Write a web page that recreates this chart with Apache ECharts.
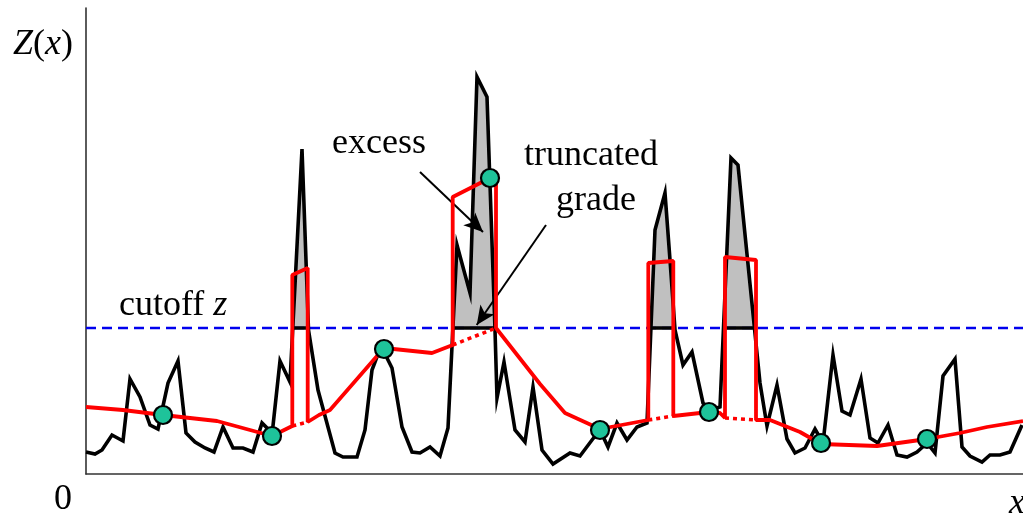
<!DOCTYPE html>
<html>
<head>
<meta charset="utf-8">
<script src="https://cdn.jsdelivr.net/npm/echarts@6/dist/echarts.min.js"></script>
<style>
  html, body { margin: 0; padding: 0; background: #fff; }
  #chart { width: 1023px; height: 516px; }
</style>
</head>
<body>
<div id="chart"></div>
<script>
// Grade profile Z(x) along a transect
const gradeX = [0,0.9,1.6,2.6,3.7,4.4,5.4,6.4,7.2,8.2,
  9.2,10.0,10.9,11.9,12.8,13.7,14.7,15.7,16.7,17.6,
  18.1,18.6,19.4,20.4,21.6,22.25,23.2,24.9,25.7,27.1,
  27.9,28.6,29.5,30.6,31.6,32.6,33.4,34.4,35.4,36.2,
  37.1,38.4,39.1,40.1,40.9,41.1,41.8,42.9,43.9,44.7,
  45.6,46.7,48.4,49.4,50.6,51.4,52.2,53.1,54.1,55.1,
  56.1,56.9,57.9,58.4,58.9,59.7,60.6,61.7,62.4,63.4,
  64.5,65.2,67.4,68.1,69.1,70.1,70.9,71.9,72.9,73.7,
  74.7,75.6,76.4,77.5,78.4,79.2,80.2,81.1,82.1,83.1,
  84.1,84.9,85.7,86.9,87.6,88.4,89.6,90.4,91.4,92.4,
  93.6];
const gradeZ = [2.2,2.0,2.4,3.9,3.3,9.5,7.7,4.9,4.5,9.1,
  11.3,4.1,3.2,2.6,2.2,4.7,2.6,2.6,2.2,5.1,
  4.6,3.9,11.3,9.2,32.5,14.4,8.4,2.1,1.7,1.7,
  4.4,10.4,12.8,10.6,4.7,2.2,2.1,2.7,1.8,4.6,
  22.9,18.1,39.7,37.7,14.4,7.6,11.2,4.4,3.2,8.7,
  2.4,1.0,2.1,1.8,3.4,4.4,2.7,5.1,3.4,4.7,
  5.1,24.4,28.1,21.4,14.4,10.9,12.2,7.1,6.4,6.7,
  31.6,30.9,9.1,4.8,8.9,3.5,2.1,2.6,4.5,3.1,
  11.9,6.3,5.9,9.5,3.6,3.1,4.9,1.9,1.7,2.2,
  3.1,2.1,9.8,11.5,2.7,1.8,1.2,1.9,1.9,2.2,
  4.9];

// Smooth estimate from the samples
const estX = [0,3.7,7.7,13.1,18.6,20.63,22.17,23.3,24.4,29.8,34.6,36.67,41.0,45.4,47.9,
  51.4,56.23,58.73,62.3,63.4,63.9,67.0,68.4,71.4,73.5,79.1,84.1,87.4,90.1,93.7];
const estZ = [6.7,6.4,5.9,5.3,3.8,4.8,5.2,5.9,6.4,12.6,12.1,12.9,14.6,9.0,6.1,
  4.5,5.4,5.8,6.2,6.1,5.6,5.4,5.4,4.2,3.0,2.8,3.5,4.1,4.7,5.3];

// Sample locations
const sampleX = [7.7,18.6,29.8,40.4,51.4,62.3,73.5,84.1];
const sampleZ = [5.9,3.8,12.5,29.6,4.4,6.2,3.1,3.5];

// Blocks where the estimate is replaced by the truncated-grade level
const blockFrom = [20.63,36.67,56.23,63.9];
const blockTo = [22.17,41.0,58.73,67.0];
const blockTopFrom = [19.9,27.7,21.1,21.7];
const blockTopTo = [20.6,29.9,21.3,21.4];

const cutoff = 14.6;
const xMax = 93.7, zMax = 46.6;

// Annotation arrows: [x0, z0, x1, z1]
const arrowExcess = [33.4, 30.2, 39.7, 24.2];
const arrowTruncated = [46.0, 24.9, 39.07, 14.9];

const grade = gradeX.map((x, i) => [x, gradeZ[i]]);

// Parts of the profile above the cutoff, with exact crossing points
const excessRegions = [];
let cur = null;
for (let i = 0; i < grade.length; i++) {
  const p = grade[i];
  if (i > 0) {
    const q = grade[i - 1];
    if ((q[1] - cutoff) * (p[1] - cutoff) < 0) {
      const xc = q[0] + (cutoff - q[1]) / (p[1] - q[1]) * (p[0] - q[0]);
      if (p[1] > cutoff) {
        cur = [[xc, cutoff]];
      } else if (cur) {
        cur.push([xc, cutoff]);
        excessRegions.push(cur);
        cur = null;
      }
    }
  }
  if (cur && p[1] > cutoff) cur.push(p);
}

// Estimate: solid outside the blocks, with the block detours; dotted inside
const redSolid = [];
const redDotted = [];
let i = 0;
while (i < estX.length) {
  redSolid.push([estX[i], estZ[i]]);
  const k = blockFrom.indexOf(estX[i]);
  if (k >= 0) {
    redSolid.push([blockFrom[k], blockTopFrom[k]], [blockTo[k], blockTopTo[k]]);
    const seg = [];
    let j = i;
    while (estX[j] < blockTo[k]) { seg.push([estX[j], estZ[j]]); j++; }
    seg.push([estX[j], estZ[j]]);
    redDotted.push(seg);
    i = j;
    continue;
  }
  i++;
}

const series = [];

series.push({
  type: 'custom',
  z: 1,
  silent: true,
  renderItem: function (params, api) {
    const pts = excessRegions[params.dataIndex].map(p => api.coord(p));
    return { type: 'polygon', shape: { points: pts }, style: { fill: '#c0c0c0' } };
  },
  data: excessRegions.map(r => [r[0][0], cutoff])
});

series.push({
  type: 'line',
  z: 2,
  data: [[0, cutoff], [xMax, cutoff]],
  symbol: 'none',
  lineStyle: { color: '#0000ee', width: 2.4, type: [10, 6] },
  silent: true
});

excessRegions.forEach(r => {
  series.push({
    type: 'line',
    z: 3,
    data: [r[0], r[r.length - 1]],
    symbol: 'none',
    lineStyle: { color: '#000', width: 3.5 },
    silent: true
  });
});

series.push({
  type: 'line',
  z: 4,
  data: grade,
  symbol: 'none',
  lineStyle: { color: '#000', width: 3.6, join: 'miter' },
  silent: true,
  markLine: {
    silent: true,
    symbol: ['none', 'arrow'],
    symbolSize: [13, 19],
    label: { show: false },
    lineStyle: { color: '#000', width: 2, type: 'solid' },
    data: [
      [{ coord: [arrowExcess[0], arrowExcess[1]] }, { coord: [arrowExcess[2], arrowExcess[3]] }],
      [{ coord: [arrowTruncated[0], arrowTruncated[1]] }, { coord: [arrowTruncated[2], arrowTruncated[3]] }]
    ]
  }
});

redDotted.forEach(seg => {
  series.push({
    type: 'line',
    z: 5,
    data: seg,
    symbol: 'none',
    lineStyle: { color: '#ff0000', width: 3.6, type: [4, 4] },
    silent: true
  });
});

series.push({
  type: 'line',
  z: 6,
  data: redSolid,
  symbol: 'none',
  lineStyle: { color: '#ff0000', width: 3.8 },
  silent: true
});

series.push({
  type: 'scatter',
  z: 7,
  data: sampleX.map((x, i) => [x, sampleZ[i]]),
  symbol: 'circle',
  symbolSize: 18,
  itemStyle: { color: '#1ec39a', borderColor: '#000', borderWidth: 2.2, opacity: 1 },
  silent: true
});

const serif = '"Liberation Serif", "Times New Roman", serif';
const fs = 36;
const txt = (x, y, text, align, extra) => ({
  type: 'text', x: x, y: y, silent: true,
  style: Object.assign({
    text: text, font: fs + 'px ' + serif, fill: '#000',
    textAlign: align, textVerticalAlign: 'middle'
  }, extra || {})
});
const mixed = {
  i: { font: 'italic ' + fs + 'px ' + serif, fill: '#000' },
  n: { font: fs + 'px ' + serif, fill: '#000' }
};

const chart = echarts.init(document.getElementById('chart'), null, { renderer: 'canvas' });
chart.setOption({
  animation: false,
  backgroundColor: '#fff',
  grid: { left: 86, right: 0, top: 8, bottom: 42 },
  xAxis: {
    type: 'value', min: 0, max: xMax,
    axisLine: { show: true, lineStyle: { color: '#333', width: 1.6 } },
    axisTick: { show: false }, axisLabel: { show: false }, splitLine: { show: false }
  },
  yAxis: {
    type: 'value', min: 0, max: zMax,
    axisLine: { show: true, lineStyle: { color: '#333', width: 1.6 } },
    axisTick: { show: false }, axisLabel: { show: false }, splitLine: { show: false }
  },
  series: series,
  graphic: [
    txt(13, 45, '{i|Z}{n|(}{i|x}{n|)}', 'left', { rich: mixed }),
    txt(63, 500, '0', 'center'),
    txt(1009, 504, 'x', 'left', { font: 'italic ' + fs + 'px ' + serif }),
    txt(379, 144, 'excess', 'center'),
    txt(591, 156, 'truncated', 'center'),
    txt(596, 201, 'grade', 'center'),
    txt(119, 306, '{n|cutoff }{i|z}', 'left', { rich: mixed })
  ]
});
</script>
</body>
</html>
